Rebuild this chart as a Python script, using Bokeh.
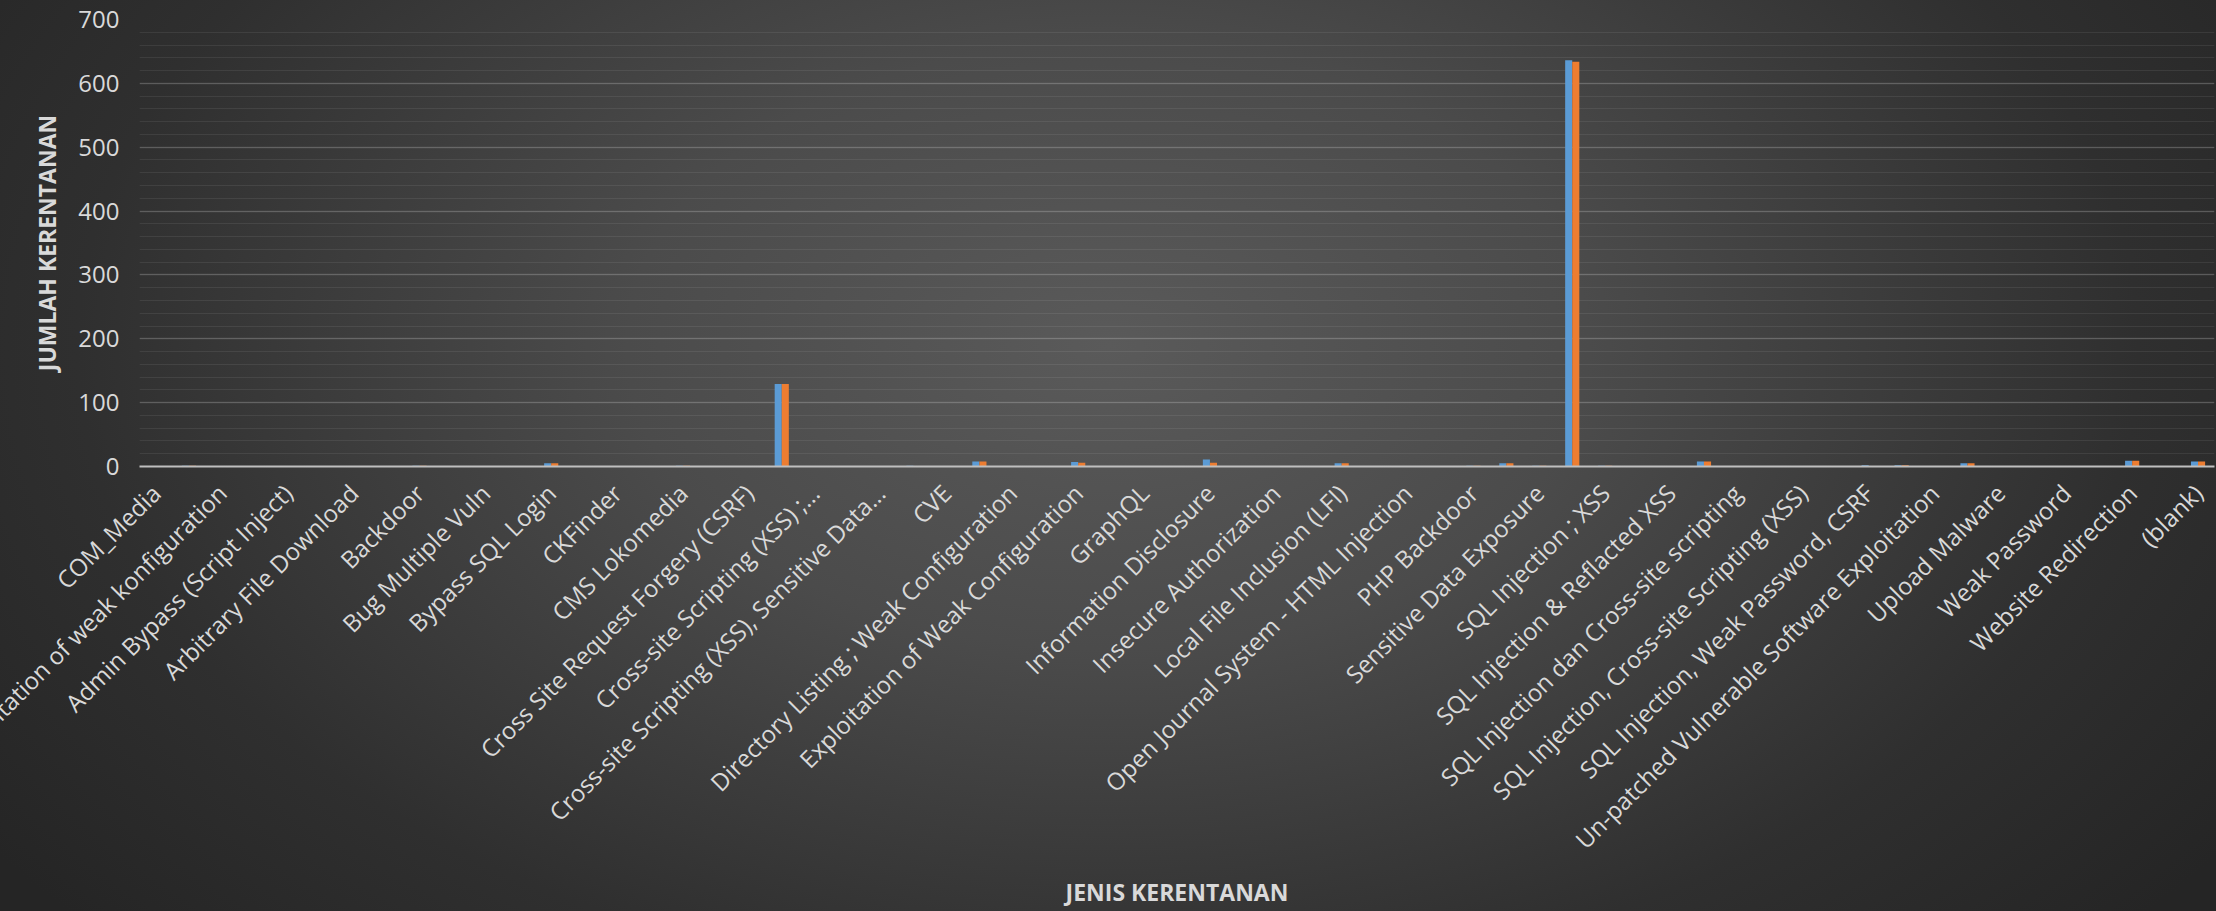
from bokeh.plotting import figure
from bokeh.models import Range1d, FixedTicker, SingleIntervalTicker, ColumnDataSource
from bokeh.transform import dodge
from bokeh.embed import file_html
from bokeh.resources import INLINE

# Visible category labels (Excel shows every second category label)
tick_labels = [
    "COM_Media",
    "Exploitation of weak konfiguration",
    "Admin Bypass (Script Inject)",
    "Arbitrary File Download",
    "Backdoor",
    "Bug Multiple Vuln",
    "Bypass SQL Login",
    "CKFinder",
    "CMS Lokomedia",
    "Cross Site Request Forgery (CSRF)",
    "Cross-site Scripting (XSS) ;...",
    "Cross-site Scripting (XSS), Sensitive Data...",
    "CVE",
    "Directory Listing ; Weak Configuration",
    "Exploitation of Weak Configuration",
    "GraphQL",
    "Information Disclosure",
    "Insecure Authorization",
    "Local File Inclusion (LFI)",
    "Open Journal System - HTML Injection",
    "PHP Backdoor",
    "Sensitive Data Exposure",
    "SQL Injection ; XSS",
    "SQL Injection & Reflacted XSS",
    "SQL Injection dan Cross-site scripting",
    "SQL Injection, Cross-site Scripting (XSS)",
    "SQL Injection, Weak Password, CSRF",
    "Un-patched Vulnerable Software Exploitation",
    "Upload Malware",
    "Weak Password",
    "Website Redirection",
    "(blank)",
]

# Values per category slot (63 slots; labelled slots are the even ones)
blue_values = [0, 1, 0, 0, 0, 0, 0, 0, 1, 0,
               0, 0, 5, 0, 0, 0, 1, 0, 0, 129,
               0, 0, 0, 1, 0, 8, 0, 0, 7, 0,
               0, 0, 11, 0, 0, 0, 5, 0, 0, 0,
               1, 5, 1, 636, 1, 0, 0, 8, 0, 0,
               0, 0, 2, 2, 0, 5, 0, 0, 0, 0,
               9, 0, 8]
orange_values = [0, 1, 0, 0, 0, 0, 0, 0, 1, 0,
                 0, 0, 5, 0, 0, 0, 1, 0, 0, 129,
                 0, 0, 0, 0, 0, 8, 0, 0, 6, 0,
                 0, 0, 6, 0, 0, 0, 5, 0, 0, 0,
                 1, 5, 1, 634, 1, 0, 0, 8, 0, 0,
                 0, 0, 0, 2, 0, 5, 0, 0, 0, 0,
                 9, 0, 8]

n = len(blue_values)
slots = list(range(n))
label_slots = slots[::2]

source = ColumnDataSource(data=dict(x=slots, blue=blue_values, orange=orange_values))

FONT = "Open Sans"
TXT = "#d9d9d9"

p = figure(width=2216, height=911, output_backend="svg", toolbar_location=None,
           x_range=Range1d(-0.5, n - 0.5), y_range=Range1d(0, 700),
           min_border_left=139, min_border_right=2, min_border_top=19,
           min_border_bottom=445)

p.styles = {"background": "radial-gradient(ellipse 62% 95% at 50% 38%, #5a5a5a 0%, #4b4b4b 35%, #2f2f2f 75%, #252525 100%)"}
p.background_fill_alpha = 0
p.border_fill_alpha = 0
p.outline_line_color = None

bw = 0.215
p.vbar(x=dodge("x", -bw / 2, range=p.x_range), top="blue", width=bw, source=source,
       fill_color="#5B9BD5", line_color=None)
p.vbar(x=dodge("x", bw / 2, range=p.x_range), top="orange", width=bw, source=source,
       fill_color="#ED7D31", line_color=None)

# x axis
xa = p.xaxis[0]
xa.ticker = FixedTicker(ticks=label_slots)
xa.major_label_overrides = {s: lab for s, lab in zip(label_slots, tick_labels)}
xa.major_label_orientation = 0.785398
xa.major_label_text_font = FONT
xa.major_label_text_font_size = "24px"
xa.major_label_text_color = TXT
xa.major_label_standoff = 16
xa.major_tick_line_color = None
xa.minor_tick_line_color = None
xa.axis_line_color = "#bfbfbf"
xa.axis_line_width = 2
xa.axis_label = "JENIS KERENTANAN"
xa.axis_label_text_font = FONT
xa.axis_label_text_font_style = "bold"
xa.axis_label_text_font_size = "23px"
xa.axis_label_text_color = TXT
xa.axis_label_standoff = 6

# y axis
ya = p.yaxis[0]
ya.ticker = SingleIntervalTicker(interval=100, num_minor_ticks=5)
ya.major_label_text_font = FONT
ya.major_label_text_font_size = "24px"
ya.major_label_text_color = TXT
ya.major_label_standoff = 14
ya.major_tick_line_color = None
ya.minor_tick_line_color = None
ya.axis_line_color = None
ya.axis_label = "JUMLAH KERENTANAN"
ya.axis_label_text_font = FONT
ya.axis_label_text_font_style = "bold"
ya.axis_label_text_font_size = "23px"
ya.axis_label_text_color = TXT
ya.axis_label_standoff = 12

p.xgrid.grid_line_color = None
p.ygrid.grid_line_color = "#d9d9d9"
p.ygrid.grid_line_alpha = 0.2
p.ygrid.grid_line_width = 1.5
p.ygrid.minor_grid_line_color = "#d9d9d9"
p.ygrid.minor_grid_line_alpha = 0.09
p.ygrid.minor_grid_line_width = 1.2

open("out.html", "w").write(file_html(p, INLINE))
